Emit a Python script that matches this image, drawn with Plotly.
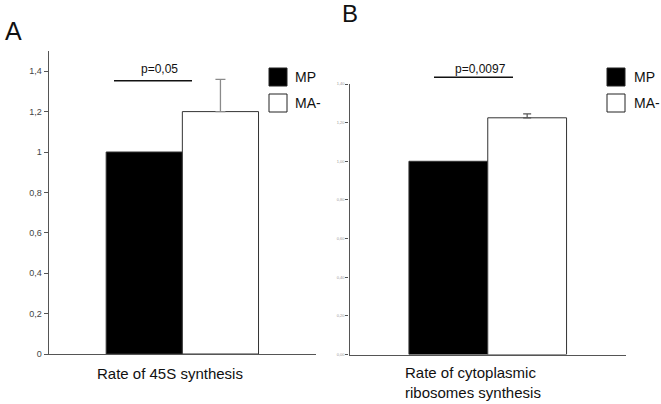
import plotly.graph_objects as go

# ---- data ----
series_names = ["MP", "MA-"]
panel_a_category = ["Rate of 45S synthesis"]
panel_a_values = [1.0, 1.2]
panel_a_err_plus = [0.0, 0.16]
panel_a_ticks = [0, 0.2, 0.4, 0.6, 0.8, 1.0, 1.2, 1.4]
panel_a_ticktext = ["0", "0,2", "0,4", "0,6", "0,8", "1", "1,2", "1,4"]
panel_a_p = "p=0,05"

panel_b_category = ["Rate of cytoplasmic<br>ribosomes synthesis"]
panel_b_values = [1.0, 1.225]
panel_b_err_plus = [0.0, 0.02]
panel_b_ticks = [0, 0.2, 0.4, 0.6, 0.8, 1.0, 1.2, 1.4]
panel_b_ticktext = ["0,00", "0,20", "0,40", "0,60", "0,80", "1,00", "1,20", "1,40"]
panel_b_p = "p=0,0097"

fill_colors = ["#000000", "#ffffff"]
FONT = "Liberation Sans, Arial, sans-serif"
W, H = 661, 404

fig = go.Figure()

for i, name in enumerate(series_names):
    fig.add_trace(go.Bar(
        x=[0], y=[panel_a_values[i]], name=name, xaxis="x", yaxis="y",
        marker=dict(color=fill_colors[i], line=dict(color="#333333", width=1)),
        error_y=dict(type="data", symmetric=False, array=[panel_a_err_plus[i]],
                     arrayminus=[0], visible=panel_a_err_plus[i] > 0,
                     color="#8a8a8a", thickness=1.3, width=5),
        showlegend=False,
    ))
    fig.add_trace(go.Bar(
        x=[0], y=[panel_b_values[i]], name=name, xaxis="x2", yaxis="y2",
        marker=dict(color=fill_colors[i], line=dict(color="#333333", width=1)),
        error_y=dict(type="data", symmetric=False, array=[panel_b_err_plus[i]],
                     arrayminus=[0], visible=panel_b_err_plus[i] > 0,
                     color="#555555", thickness=1.2, width=4),
        showlegend=False,
    ))

def py(y):
    return 1 - y / H

def px(x):
    return x / W

axis_common = dict(showgrid=False, zeroline=False, showline=True, linecolor="#555555",
                   linewidth=1.3, automargin=False)

fig.update_layout(
    width=W, height=H, margin=dict(l=0, r=0, t=0, b=0, autoexpand=False),
    paper_bgcolor="white", plot_bgcolor="white",
    barmode="group", bargap=0.43,
    font=dict(family=FONT, color="#111111"),
    xaxis=dict(domain=[px(48.7), px(316)], range=[-0.5, 0.5], showticklabels=False,
               ticks="", anchor="y", **axis_common),
    yaxis=dict(domain=[py(354), py(51)], range=[0, 1.5], tickvals=panel_a_ticks,
               ticktext=panel_a_ticktext, ticks="outside", ticklen=4, tickcolor="#555555",
               tickfont=dict(size=9, color="#444444", family=FONT), anchor="x", **axis_common),
    xaxis2=dict(domain=[px(349.5), px(626)], range=[-0.5, 0.5], showticklabels=False,
                ticks="", anchor="y2", **axis_common),
    yaxis2=dict(domain=[py(354.5), py(84)], range=[0, 1.4], tickvals=panel_b_ticks,
                ticktext=panel_b_ticktext, ticks="outside", ticklen=3, tickcolor="#555555",
                tickfont=dict(size=4, color="#999999", family=FONT), anchor="x2", **axis_common),
)

shapes = []
annotations = []

def note(text, x, y, size, xanchor="center", align="center"):
    annotations.append(dict(text=text, xref="paper", yref="paper", x=px(x), y=py(y),
                            xanchor=xanchor, yanchor="middle", align=align, showarrow=False,
                            font=dict(size=size, color="#111111", family=FONT)))

# significance lines
shapes.append(dict(type="line", xref="paper", yref="paper", x0=px(114), x1=px(192),
                   y0=py(80.7), y1=py(80.7), line=dict(color="#111111", width=1.5)))
note(panel_a_p, 159, 69, 12)
shapes.append(dict(type="line", xref="paper", yref="paper", x0=px(434), x1=px(513),
                   y0=py(77.3), y1=py(77.3), line=dict(color="#111111", width=1.5)))
note(panel_b_p, 480, 69, 12)

# legends
for bx, tx in [(269, 293), (607, 632)]:
    for j, name in enumerate(series_names):
        y0 = 68 + j * 26
        shapes.append(dict(type="rect", xref="paper", yref="paper", x0=px(bx), x1=px(bx + 18),
                           y0=py(y0 + 18), y1=py(y0), fillcolor=fill_colors[j],
                           line=dict(color="#222222", width=1)))
        note(name, tx, y0 + 9, 14, xanchor="left")

# category titles
note(panel_a_category[0], 170, 373, 15)
note(panel_b_category[0], 403, 382.5, 15, xanchor="left", align="left")

# panel letters
note("A", 3, 31, 25, xanchor="left")
note("B", 340, 13, 24, xanchor="left")

fig.update_layout(shapes=shapes, annotations=annotations)
fig.write_html("out.html", config={"displayModeBar": False},
               post_script="document.body.style.margin='0';document.body.style.overflow='hidden';")
